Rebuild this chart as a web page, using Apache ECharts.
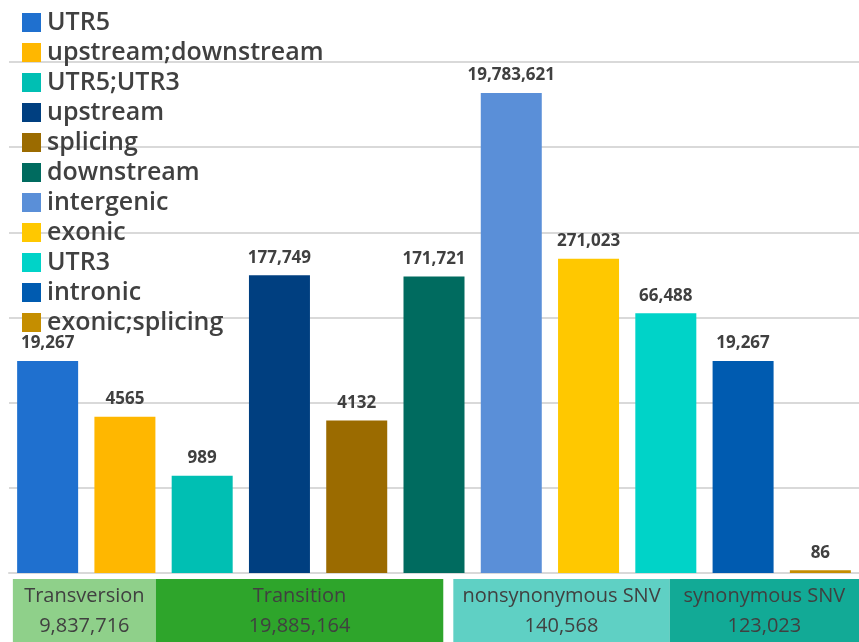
<!DOCTYPE html>
<html>
<head>
<meta charset="utf-8">
<script src="https://cdn.jsdelivr.net/npm/echarts@6/dist/echarts.min.js"></script>
<style>
  html, body { margin: 0; padding: 0; background: #ffffff; }
  #chart { width: 859px; height: 642px; }
</style>
</head>
<body>
<div id="chart"></div>
<script>
// Variant categories and their counts
const categories = ['UTR5', 'upstream;downstream', 'UTR5;UTR3', 'upstream', 'splicing', 'downstream',
                    'intergenic', 'exonic', 'UTR3', 'intronic', 'exonic;splicing'];
const counts = [19267, 4565, 989, 177749, 4132, 171721, 19783621, 271023, 66488, 19267, 86];

// Substitution / effect groups shown in the strip under the bars
const groupNames = ['Transversion', 'Transition', 'nonsynonymous SNV', 'synonymous SNV'];
const groupTotals = [9837716, 19885164, 140568, 123023];

// Styling
const barColors = ['#1f70cf', '#ffb700', '#00bfb3', '#003f80', '#9b6b00', '#006b5f',
                   '#5a8fd8', '#ffc800', '#00d3c8', '#005bb0', '#c58e00'];
const groupColors = ['#8fd08a', '#2ea52b', '#5fd0c4', '#12aa96'];
// group strip extents, in category-band units along the x axis
const groupSpans = [[0.05, 1.9], [1.9, 5.62], [5.75, 8.55], [8.55, 11.2]];

const FONT = '"Open Sans", "Noto Sans", sans-serif';
const fmt = v => (v >= 10000 ? v.toLocaleString('en-US') : String(v));

const chart = echarts.init(document.getElementById('chart'), null, { renderer: 'canvas' });

const series = categories.map((name, i) => ({
  name: name,
  type: 'bar',
  barWidth: 61,
  barGap: '-100%',
  yAxisIndex: 0,
  itemStyle: { color: barColors[i] },
  label: {
    show: true,
    position: 'top',
    distance: 9,
    formatter: p => fmt(p.value),
    fontFamily: FONT,
    fontWeight: 'bold',
    fontSize: 17,
    color: '#404040'
  },
  data: categories.map((_, j) => (j === i ? counts[i] : '-'))
}));

chart.setOption({
  animation: false,
  backgroundColor: '#ffffff',
  grid: { left: 9, width: 861, top: 62, bottom: 69 },
  legend: {
    orient: 'vertical',
    left: 17,
    top: 5,
    icon: 'rect',
    itemWidth: 19,
    itemHeight: 19,
    itemGap: 5,
    selectedMode: false,
    data: categories,
    textStyle: {
      fontFamily: FONT,
      fontSize: 25,
      fontWeight: 600,
      lineHeight: 22,
      color: '#404040',
      padding: [0, 0, 0, 1]
    }
  },
  xAxis: {
    type: 'category',
    data: categories,
    axisLine: { show: true, lineStyle: { color: '#d9d9d9', width: 2 } },
    axisTick: { show: false },
    axisLabel: { show: false },
    splitLine: { show: false }
  },
  yAxis: [
    {
      // counts span several orders of magnitude, so the bars use a log scale
      type: 'log',
      min: 80,
      max: 4.416e7,
      show: false,
      splitLine: { show: false }
    },
    {
      // evenly spaced background guide lines
      type: 'value',
      min: 0,
      max: 6,
      interval: 1,
      axisLine: { show: false },
      axisTick: { show: false },
      axisLabel: { show: false },
      splitLine: { show: true, lineStyle: { color: '#d9d9d9', width: 2 } }
    }
  ],
  series: series
});

// Group strip under the axis, positioned from the category bands
function drawGroups() {
  const c0 = chart.convertToPixel({ xAxisIndex: 0 }, 0);
  const c1 = chart.convertToPixel({ xAxisIndex: 0 }, 1);
  const bw = c1 - c0;
  const xAt = u => c0 + (u - 0.5) * bw;
  const base = chart.convertToPixel({ yAxisIndex: 1 }, 0);
  const top = base + 6;
  const h = chart.getHeight() - top;
  const elements = [];
  groupNames.forEach((name, i) => {
    const x0 = xAt(groupSpans[i][0]);
    const x1 = xAt(groupSpans[i][1]);
    elements.push({
      type: 'rect',
      shape: { x: x0, y: top, width: x1 - x0, height: h },
      style: { fill: groupColors[i] },
      silent: true
    });
    const cx = (x0 + Math.min(x1, chart.getWidth())) / 2;
    elements.push({
      type: 'text',
      x: cx,
      y: top + h / 2 + 1,
      style: {
        text: name + '\n' + groupTotals[i].toLocaleString('en-US'),
        align: 'center',
        verticalAlign: 'middle',
        font: '20px ' + FONT,
        lineHeight: 30,
        fill: '#404040'
      },
      silent: true
    });
  });
  chart.setOption({ graphic: elements });
}
drawGroups();
</script>
</body>
</html>
